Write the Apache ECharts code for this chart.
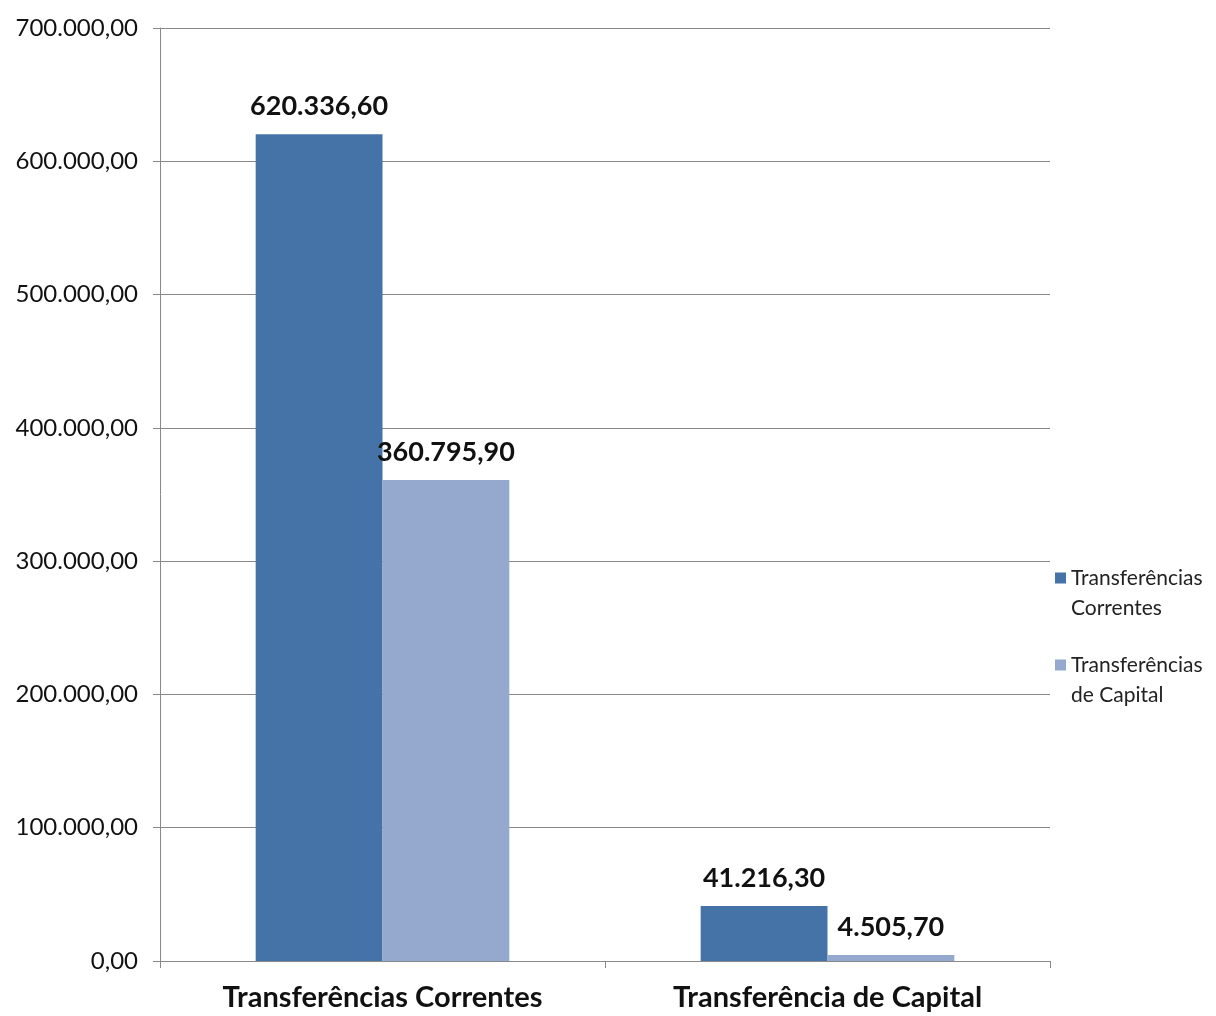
<!DOCTYPE html>
<html>
<head>
<meta charset="utf-8">
<script src="https://cdn.jsdelivr.net/npm/echarts@6/dist/echarts.min.js"></script>
<style>
  html, body { margin: 0; padding: 0; background: #fff; }
  #chart { width: 1216px; height: 1016px; }
</style>
</head>
<body>
<div id="chart"></div>
<script>
// Categories and series values
const categories = ['Transferências Correntes', 'Transferência de Capital'];
const seriesNames = ['Transferências Correntes', 'Transferências de Capital'];
const correntesValues = [620336.60, 41216.30];
const capitalValues = [360795.90, 4505.70];
const legendLines = {
  'Transferências Correntes': 'Transferências\nCorrentes',
  'Transferências de Capital': 'Transferências\nde Capital'
};

// Brazilian number format: 620.336,60
function fmtBR(v) {
  const fixed = Math.abs(v).toFixed(2);
  const parts = fixed.split('.');
  const intPart = parts[0].replace(/\B(?=(\d{3})+(?!\d))/g, '.');
  return (v < 0 ? '-' : '') + intPart + ',' + parts[1];
}

const FONT = 'Lato, "Open Sans", sans-serif';

// Legend swatch sits beside the first line of a two-line name:
// the square occupies the top of a tall, otherwise empty icon box.
const SWATCH = 'path://M0,0L11,0L11,11L0,11Z M0,41L0.01,41L0.01,41.01Z';

const labelStyle = {
  show: true, position: 'top', distance: 14,
  fontFamily: FONT, fontSize: 27, fontWeight: 'bold', color: '#111',
  formatter: p => fmtBR(p.value)
};

const chart = echarts.init(document.getElementById('chart'));
chart.setOption({
  backgroundColor: '#ffffff',
  animation: false,
  grid: { left: 160, right: 166, top: 28, bottom: 55, containLabel: false },
  legend: {
    orient: 'vertical',
    left: 1055,
    top: 563,
    padding: 0,
    itemWidth: 11,
    itemHeight: 41,
    itemGap: 27,
    icon: SWATCH,
    data: seriesNames,
    formatter: name => legendLines[name],
    textStyle: { fontFamily: FONT, fontSize: 21, color: '#222', lineHeight: 30 }
  },
  xAxis: {
    type: 'category',
    data: categories,
    axisLine: { lineStyle: { color: '#888', width: 1 } },
    axisTick: { show: true, length: 7, lineStyle: { color: '#888' } },
    axisLabel: { fontFamily: FONT, fontSize: 29, fontWeight: 'bold', color: '#111', margin: 22 }
  },
  yAxis: {
    type: 'value',
    min: 0,
    max: 700000,
    interval: 100000,
    axisLine: { show: true, lineStyle: { color: '#888', width: 1 } },
    axisTick: { show: true, length: 7, lineStyle: { color: '#888' } },
    splitLine: { show: true, lineStyle: { color: '#888', width: 1 } },
    axisLabel: { fontFamily: FONT, fontSize: 24, color: '#111', margin: 22, formatter: v => fmtBR(v) }
  },
  series: [
    {
      name: seriesNames[0],
      type: 'bar',
      data: correntesValues,
      barGap: '0%',
      barCategoryGap: '43%',
      itemStyle: { color: '#4572A7' },
      label: labelStyle
    },
    {
      name: seriesNames[1],
      type: 'bar',
      data: capitalValues,
      barGap: '0%',
      barCategoryGap: '43%',
      itemStyle: { color: '#95A9CE' },
      label: labelStyle
    }
  ]
});
</script>
</body>
</html>
